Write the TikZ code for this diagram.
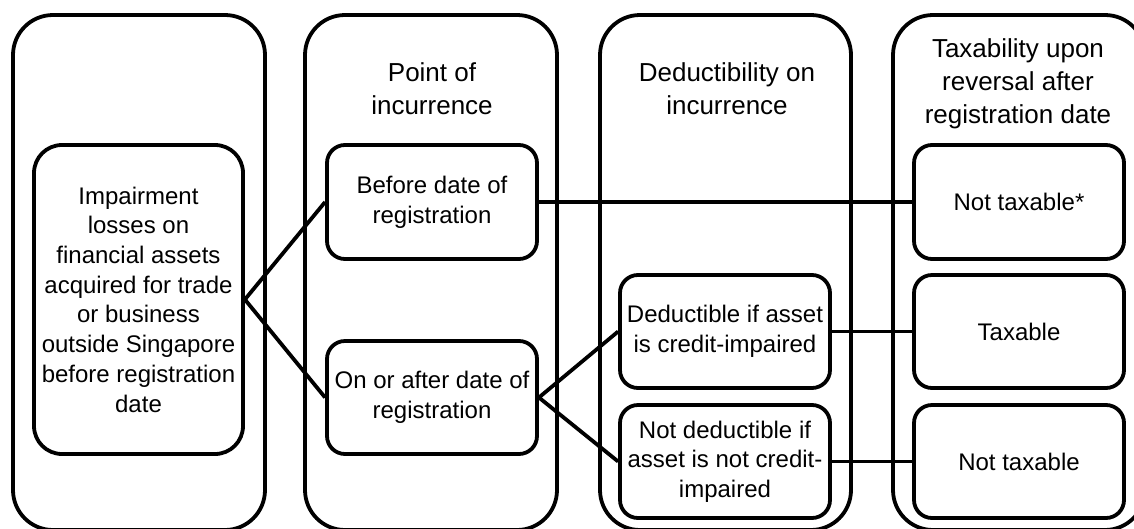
\documentclass[tikz,border=0pt]{standalone}
\usepackage{fontspec}
\setmainfont{Liberation Sans}
\begin{document}
\begin{tikzpicture}[x=1pt,y=-1pt, line width=3.8pt, line join=round,
  col/.style={draw, rounded corners=40pt, minimum width=252pt, minimum height=515pt, inner sep=0pt},
  bigbox/.style={draw, rounded corners=28pt, minimum width=209pt, minimum height=309pt, inner sep=0pt, align=center, font=\fontsize{24}{29.7}\selectfont},
  box/.style={draw, rounded corners=18pt, minimum width=210pt, minimum height=113pt, inner sep=0pt, align=center, font=\fontsize{24}{29.7}\selectfont},
  head/.style={align=center, font=\fontsize{26}{33}\selectfont, inner sep=0pt},
  link/.style={draw, line width=3.8pt}]
\useasboundingbox (0,0) rectangle (1134,528);
\clip (0,0) rectangle (1134,528);
% columns
\node[col] (c1) at (139,272.5) {};
\node[col] (c2) at (431,272.5) {};
\node[col, minimum width=251pt] (c3) at (725.5,272.5) {};
\node[col] (c4) at (1019,272.5) {};
% headings
\node[head] (h2) at (432,89) {Point of\\incurrence};
\node[head] (h3) at (727,89) {Deductibility on\\incurrence};
\node[head] (h4) at (1018,84) {Taxability upon\\reversal after\\registration date};
% boxes
\node[bigbox] (imp) at (138.5,299.5) {Impairment\\losses on\\financial assets\\acquired for trade\\or business\\outside Singapore\\before registration\\date};
\node[box, minimum height=114pt] (before) at (432,202) {Before date of\\registration};
\node[box] (onafter) at (432,397.5) {On or after date of\\registration};
\node[box] (ded) at (725,331.5) {Deductible if asset\\is credit-impaired};
\node[box] (notded) at (725,461.5) {Not deductible if\\asset is not credit-\\impaired};
\node[box, minimum height=114pt] (ntstar) at (1019,202) {Not taxable*};
\node[box] (tax) at (1019,331.5) {Taxable};
\node[box] (nt) at (1019,461.5) {Not taxable};
% connectors
\draw[link] (before.west) -- (imp.east) -- (onafter.west);
\draw[link] (before.east) -- (ntstar.west);
\draw[link] (ded.west) -- (onafter.east) -- (notded.west);
\draw[link] (ded.east) -- (tax.west);
\draw[link] (notded.east) -- (nt.west);
\end{tikzpicture}
\end{document}
